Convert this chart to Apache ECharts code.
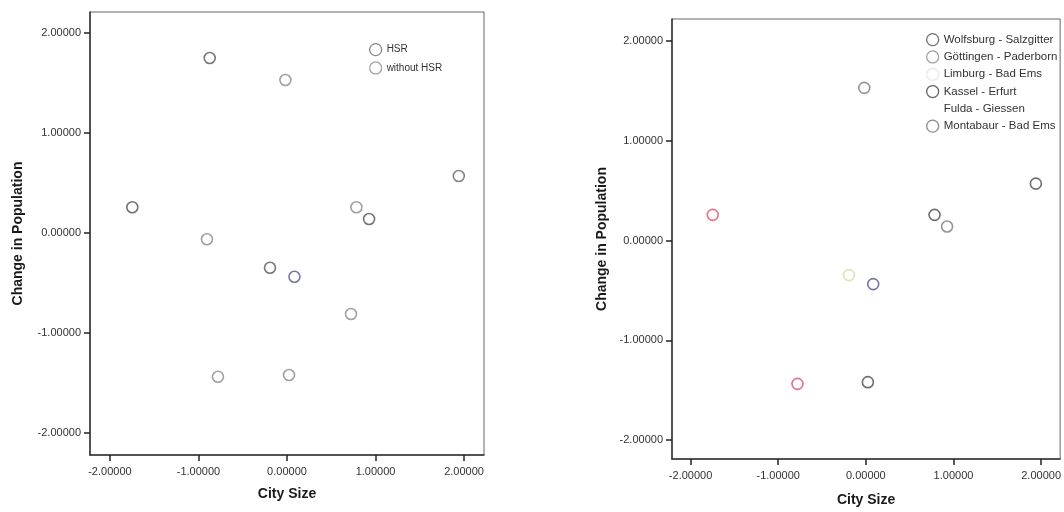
<!DOCTYPE html>
<html>
<head>
<meta charset="utf-8">
<title>City Size vs Change in Population</title>
<script src="https://cdn.jsdelivr.net/npm/echarts@6/dist/echarts.min.js"></script>
<style>
  html, body { margin: 0; padding: 0; background: #ffffff; }
  #chart { width: 1064px; height: 512px; }
</style>
</head>
<body>
<div id="chart"></div>
<script>
// Standardised scores: [City Size, Change in Population]
const hsrCities = [
  [-0.873, 1.75], [1.94, 0.57], [-1.747, 0.257],
  [0.927, 0.14], [-0.192, -0.347], [0.084, -0.437]
];
const nonHsrCities = [
  [-0.018, 1.53], [0.784, 0.257], [-0.904, -0.063],
  [0.723, -0.81], [-0.78, -1.437], [0.023, -1.42]
];

// Same cities grouped by route
const routeNames = [
  'Wolfsburg - Salzgitter', 'Göttingen - Paderborn', 'Limburg - Bad Ems',
  'Kassel - Erfurt', 'Fulda - Giessen', 'Montabaur - Bad Ems'
];
const wolfsburgSalzgitter = [[1.94, 0.57], [0.784, 0.257], [0.023, -1.42]];
const goettingenPaderborn = [[-1.747, 0.257], [-0.78, -1.437]];
const limburgBadEms = [[-0.192, -0.347]];
const kasselErfurt = [[0.084, -0.437]];
const fuldaGiessen = [[-0.873, 1.75], [-0.904, -0.063], [0.723, -0.81]];
const montabaurBadEms = [[-0.018, 1.53], [0.927, 0.14]];

const tickValues = [-2, -1, 0, 1, 2];
const xName = 'City Size';
const yName = 'Change in Population';

const FONT = '"Liberation Sans", Arial, sans-serif';

function fmt(v) { return v.toFixed(5); }

function xAxisFor(gridIndex, min, max, gap) {
  return {
    gridIndex, type: 'value', min, max,
    name: xName, nameLocation: 'middle', nameGap: gap,
    nameTextStyle: { fontFamily: FONT, fontSize: 14, fontWeight: 'bold', color: '#1a1a1a' },
    axisLine: { show: true, onZero: false, lineStyle: { color: '#333', width: 1.5 } },
    axisTick: { show: true, length: 6, customValues: tickValues, lineStyle: { color: '#222', width: 1.5 } },
    axisLabel: { customValues: tickValues, formatter: fmt, margin: 11,
      fontFamily: FONT, fontSize: 11, color: '#333' },
    splitLine: { show: false }
  };
}

function yAxisFor(gridIndex, min, max, gap) {
  return {
    gridIndex, type: 'value', min, max,
    name: yName, nameLocation: 'middle', nameGap: gap, nameRotate: 90,
    nameTextStyle: { fontFamily: FONT, fontSize: 14, fontWeight: 'bold', color: '#1a1a1a' },
    axisLine: { show: true, onZero: false, lineStyle: { color: '#333', width: 1.5 } },
    axisTick: { show: true, length: 6, customValues: tickValues, lineStyle: { color: '#222', width: 1.5 } },
    axisLabel: { customValues: tickValues, formatter: fmt, margin: 9,
      fontFamily: FONT, fontSize: 11, color: '#333' },
    splitLine: { show: false }
  };
}

function ring(name, data, stroke, gi) {
  return {
    name, type: 'scatter', xAxisIndex: gi, yAxisIndex: gi, data,
    symbol: 'circle', symbolSize: 11,
    itemStyle: { color: '#ffffff', borderColor: stroke, borderWidth: 1.6 },
    emphasis: { disabled: true }
  };
}

// Colour of each route in the plot area and in its legend key
const routePlot = ['#4a4a4a', '#d9506f', '#dcd7a6', '#52528e', '#ffffff', '#7a7a7a'];
const routeKey = ['#4a4a4a', '#8a8a8a', '#e4e4e4', '#3d3d3d', '#ffffff', '#6e6e6e'];
const routeData = [wolfsburgSalzgitter, goettingenPaderborn, limburgBadEms,
  kasselErfurt, fuldaGiessen, montabaurBadEms];

// The HSR group has one city drawn in blue
const hsrStroke = ['#555', '#666', '#4f4f4f', '#505050', '#555', '#55558f'];

const chart = echarts.init(document.getElementById('chart'), null, { renderer: 'canvas' });

chart.setOption({
  backgroundColor: '#ffffff',
  animation: false,
  grid: [
    { left: 90, top: 12, width: 394, height: 443, show: true,
      borderColor: '#666', borderWidth: 1, backgroundColor: 'transparent' },
    { left: 672, top: 19, width: 391, height: 441, show: true,
      borderColor: '#666', borderWidth: 1, backgroundColor: 'transparent' }
  ],
  xAxis: [
    xAxisFor(0, -2.225, 2.225, 32),
    xAxisFor(1, -2.212, 2.217, 34)
  ],
  yAxis: [
    yAxisFor(0, -2.22, 2.21, 65),
    yAxisFor(1, -2.19, 2.22, 63)
  ],
  legend: [
    {
      orient: 'vertical', left: 369, top: 43, padding: 0,
      itemWidth: 12, itemHeight: 12, itemGap: 5,
      textStyle: { fontFamily: FONT, fontSize: 10, color: '#333' }, selectedMode: false,
      data: [
        { name: 'HSR', icon: 'circle', itemStyle: { color: '#fff', borderColor: '#6a6a6a', borderWidth: 1.3 } },
        { name: 'without HSR', icon: 'circle', itemStyle: { color: '#fff', borderColor: '#8c8c8c', borderWidth: 1.3 } }
      ]
    },
    {
      orient: 'vertical', left: 926, top: 33, padding: 0,
      itemWidth: 12, itemHeight: 12, itemGap: 4,
      textStyle: { fontFamily: FONT, fontSize: 11.5, color: '#333', lineHeight: 13 }, selectedMode: false,
      data: routeNames.map((n, i) => ({
        name: n, icon: 'circle',
        itemStyle: { color: '#fff', borderColor: routeKey[i], borderWidth: 1.3 }
      }))
    }
  ],
  series: [
    ring('HSR', hsrCities.map((p, i) => ({ value: p, itemStyle: { borderColor: hsrStroke[i] } })), '#5a5a5a', 0),
    ring('without HSR', nonHsrCities, '#8a8a8a', 0),
    ...routeNames.map((n, i) => ring(n, routeData[i], routePlot[i], 1))
  ]
});
</script>
</body>
</html>
